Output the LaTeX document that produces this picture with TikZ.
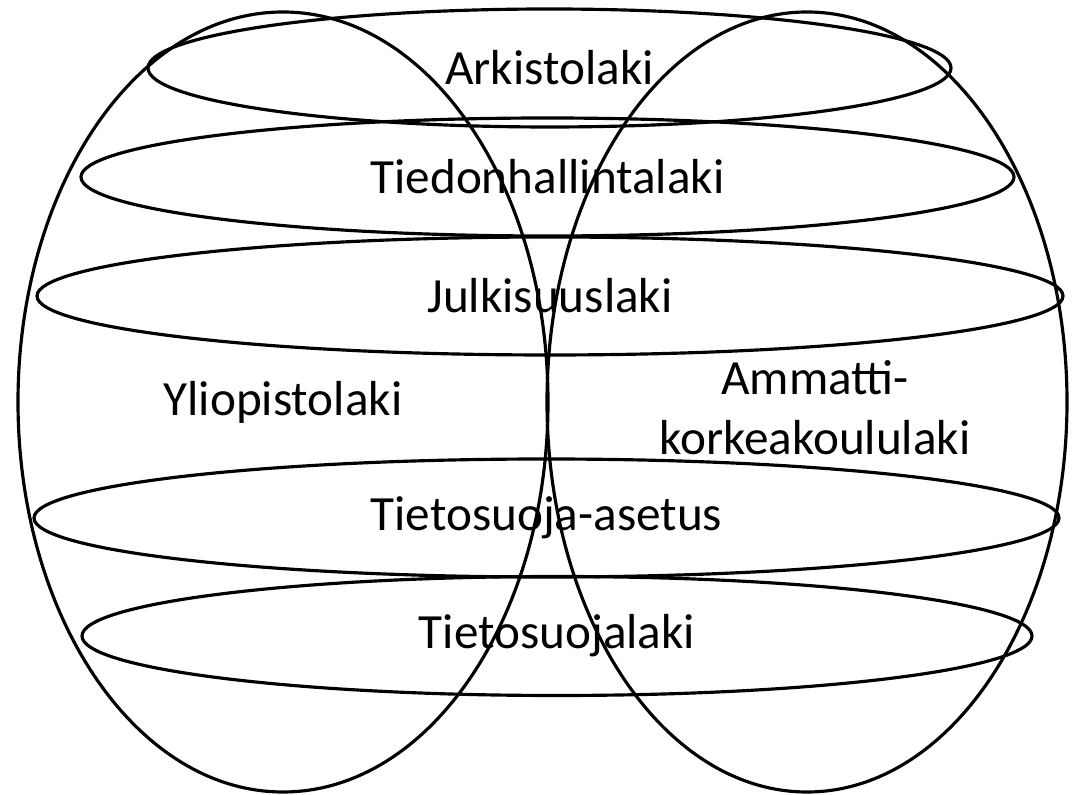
\documentclass[tikz,border=0pt]{standalone}
\usepackage{fontspec}
\setmainfont{Carlito}
\usepackage{tikz}
\usetikzlibrary{shapes.geometric, positioning}

\begin{document}
\begin{tikzpicture}[
    law/.style={ellipse, draw, line width=0.9pt, inner sep=0pt, font=\fontsize{14}{17}\selectfont},
    school/.style={ellipse, draw, line width=0.9pt, inner sep=0pt, minimum width=5.3cm, minimum height=7.8cm, font=\fontsize{14}{17}\selectfont, align=center}
]
    \useasboundingbox (0,0) rectangle (10.74,-7.95);

    \node[school] (yliopisto) at (2.83,-4.02) {Yliopistolaki};
    \node[school, minimum width=5.2cm] (amk) at (8.07,-4.02) {};
    \node[font=\fontsize{14}{17}\selectfont, align=center] (amktext) at (8.15,-4.08) {Ammatti-\\korkeakoululaki};

    \node[law, minimum width=8.03cm, minimum height=1.18cm] (arkisto) at (5.495,-0.68) {Arkistolaki};
    \node[law, minimum width=9.33cm, minimum height=1.18cm] (tiedonhallinta) at (5.475,-1.77) {Tiedonhallintalaki};
    \node[law, minimum width=10.26cm, minimum height=1.18cm] (julkisuus) at (5.50,-2.96) {Julkisuuslaki};
    \node[law, minimum width=10.25cm, minimum height=1.18cm] (asetus) at (5.465,-5.18) {Tietosuoja-asetus};
    \node[law, minimum width=9.50cm, minimum height=1.19cm] (tietosuoja) at (5.57,-6.36) {Tietosuojalaki};
\end{tikzpicture}
\end{document}
